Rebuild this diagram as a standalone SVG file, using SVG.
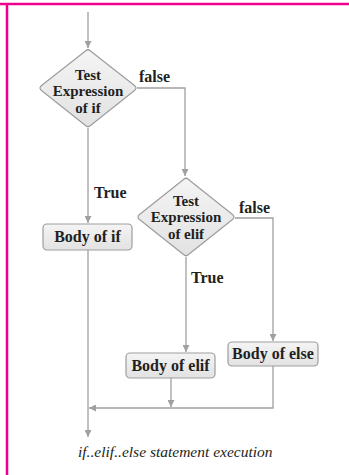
<svg xmlns="http://www.w3.org/2000/svg" width="349" height="475" viewBox="0 0 349 475">
<style>
.ln{fill:none;stroke:#a0a0a2;stroke-width:1.3}
.nd{fill:url(#g);stroke:#9d9d9f;stroke-width:1.2;stroke-linejoin:round}
.t{font-family:"Liberation Serif","Times New Roman",serif;font-weight:bold;font-size:16px;fill:#231f20;text-anchor:middle}
.d{font-size:15px}
.lb{font-family:"Liberation Serif","Times New Roman",serif;font-weight:bold;font-size:16px;fill:#231f20}
.cap{font-family:"Liberation Serif","Times New Roman",serif;font-style:italic;font-size:15.5px;fill:#231f20}
</style>
<defs>
<linearGradient id="g" x1="0" y1="0" x2="0" y2="1">
<stop offset="0" stop-color="#f4f4f4"/>
<stop offset="1" stop-color="#e2e2e3"/>
</linearGradient>
<marker id="a" viewBox="0 0 10 10" refX="10" refY="5" markerWidth="7" markerHeight="7" markerUnits="userSpaceOnUse" orient="auto">
<path d="M0,0 L10,5 L0,10 z" fill="#a0a0a2"/>
</marker>
</defs>
<rect width="349" height="475" fill="#fff"/>
<g id="frame">
<line x1="0" y1="4" x2="349" y2="4" stroke="#ec008c" stroke-width="2.5"/>
<line x1="7" y1="3" x2="7" y2="475" stroke="#ec008c" stroke-width="2.5"/>
</g>
<g id="connectors">
<path class="ln" d="M88,12 V48" marker-end="url(#a)"/>
<path class="ln" d="M137,88 H185 V176" marker-end="url(#a)"/>
<path class="ln" d="M88,128 V223" marker-end="url(#a)"/>
<path class="ln" d="M235,218 H273 V341" marker-end="url(#a)"/>
<path class="ln" d="M186,257 V352" marker-end="url(#a)"/>
<path class="ln" d="M88,250 V437" marker-end="url(#a)"/>
<path class="ln" d="M171,378 V407" marker-end="url(#a)"/>
<path class="ln" d="M273,366 V408 H89" marker-end="url(#a)"/>
<text class="lb" x="139" y="82">false</text>
<text class="lb" x="94" y="198">True</text>
<text class="lb" x="239" y="213">false</text>
<text class="lb" x="191" y="283">True</text>
</g>
<g id="test-if">
<path class="nd" d="M85.5,51 Q88,48.5 90.5,51 L134.5,85.5 Q137.5,88 134.5,90.5 L90.5,125.5 Q88,128 85.5,125.5 L41.5,90.5 Q38.5,88 41.5,85.5 Z"/>
<text class="t d" x="88" y="79.5">Test</text>
<text class="t d" x="88" y="96">Expression</text>
<text class="t d" x="88" y="112.5">of if</text>
</g>
<g id="test-elif">
<path class="nd" d="M183.5,179.5 Q186,177 188.5,179.5 L232.5,214.5 Q235.5,217 232.5,219.5 L188.5,254.5 Q186,257 183.5,254.5 L139.5,219.5 Q136.5,217 139.5,214.5 Z"/>
<text class="t d" x="186" y="205.5">Test</text>
<text class="t d" x="186" y="222">Expression</text>
<text class="t d" x="186" y="238.5">of elif</text>
</g>
<g id="body-if">
<rect class="nd" x="43" y="224" width="89" height="26" rx="4"/>
<text class="t" x="87.5" y="242">Body of if</text>
</g>
<g id="body-elif">
<rect class="nd" x="126" y="353" width="89" height="25" rx="4"/>
<text class="t" x="170.5" y="370.5">Body of elif</text>
</g>
<g id="body-else">
<rect class="nd" x="228" y="342" width="90" height="24" rx="4"/>
<text class="t" x="273" y="359">Body of else</text>
</g>
<text class="cap" x="78" y="457">if..elif..else statement execution</text>
</svg>
